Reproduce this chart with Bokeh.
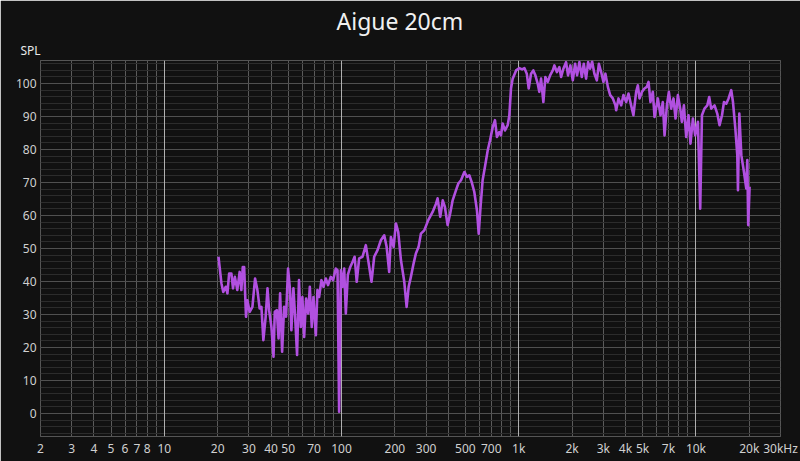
from bokeh.plotting import figure
from bokeh.models import FixedTicker, Grid, Title, ColumnDataSource
from bokeh.embed import file_html
from bokeh.resources import INLINE

# Frequency response (Hz, dB SPL)
freq_hz = [
    20.2, 21.0, 21.5, 22.2, 22.7, 23.2, 23.9, 24.4, 25.0, 25.8, 26.6, 27.2, 27.7, 28.2, 28.9,
    29.4, 30.3, 31.4, 32.5, 33.5, 34.5, 35.3, 36.2, 37.3, 38.2, 39.0, 40.2, 41.3, 42.0, 43.1,
    44.1, 45.0, 46.2, 47.4, 48.6, 49.9, 51.2, 52.1, 53.5, 54.7, 56.1, 57.5, 58.9, 60.1, 61.5,
    63.1, 64.8, 66.2, 67.9, 69.4, 71.6, 73.1, 74.7, 77.0, 79.1, 81.5, 83.9, 86.9, 89.6, 92.8,
    94.9, 96.9, 99.1, 101.7, 103.5, 105.7, 108.5, 112.0, 115.3, 118.5, 121.8, 125.7, 131.3,
    137.1, 141.3, 147.6, 152.8, 159.6, 166.7, 174.1, 179.6, 185.7, 189.8, 196.7, 202.7, 208.9,
    216.3, 225.9, 232.9, 239.2, 246.2, 255.1, 262.7, 272.1, 280.4, 292.9, 308.5, 326.6, 341.2,
    348.4, 360.6, 372.4, 383.0, 396.8, 410.2, 423.6, 442.6, 456.0, 472.0, 493.2, 510.5, 526.0,
    542.0, 561.0, 580.8, 594.3, 606.8, 625.2, 644.2, 668.3, 688.6, 712.9, 734.3, 753.4, 776.2,
    794, 811, 836, 866, 885, 904,
    924, 966, 1008, 1044, 1076, 1110, 1138, 1173, 1208, 1241, 1279, 1306, 1336, 1377, 1413,
    1458, 1503, 1556, 1589, 1641, 1695, 1734, 1786, 1849, 1897, 1956, 2018, 2080, 2134, 2199,
    2269, 2328, 2399, 2463, 2527, 2594, 2673, 2758, 2832, 2917, 3006, 3083, 3183, 3281, 3396,
    3513,
    3547, 3655, 3784, 3899, 4038, 4161, 4307, 4437, 4597, 4699,
    4802, 4955, 5121, 5280, 5400, 5538, 5710, 5838, 6095, 6310, 6500, 6650, 6855, 7033, 7246,
    7469, 7670, 7907, 8150, 8330, 8550, 8810, 9080, 9310, 9610, 9900, 10260, 10570, 10810,
    11170, 11590, 11880, 12190, 12730, 13190, 13590, 14030, 14390, 14830, 15280, 15820, 16180,
    16680, 17110, 17260, 17570, 18030, 18660, 19230, 19490, 19720, 20080,
]
spl_db = [
    47.5, 39.4, 36.8, 38.4, 36.4, 42.4, 42.4, 37.9, 41.4, 37.4, 42.9, 37.4, 44.4, 44.4, 29.3,
    34.3, 30.8, 32.3, 40.9, 37.4, 31.8, 32.3, 22.2, 29.3, 37.9, 31.3, 26.2, 17.2, 30.8, 31.3,
    22.7, 36.4, 18.7, 32.3, 29.3, 43.9, 37.4, 25.2, 37.9, 29.3, 17.7, 40.4, 26.2, 35.3, 23.2,
    34.8, 30.3, 38.4, 26.2, 35.3, 23.7, 37.4, 35.3, 40.4, 38.4, 40.9, 38.9, 41.4, 40.4, 43.9,
    43.4, 0.5, 43.4, 38.4, 43.9, 30.3, 42.0, 44.4, 45.9, 47.5, 39.9, 47.0, 47.5,
    51.0, 46.5, 39.9, 47.5, 49.5, 52.5, 54.0, 50.5, 42.9, 53.5, 50.5, 57.6, 55.0,
    46.5, 39.9, 32.3, 38.4, 41.4, 45.5, 48.5, 50.5, 54.5, 55.5, 58.6, 61.1, 63.6,
    65.2, 59.6, 64.6, 62.6, 57.1, 60.6, 64.6, 67.7, 69.7, 70.7, 73.2, 71.7, 72.2,
    70.2, 67.2, 61.6, 54.5, 61.6, 70.7, 74.7, 79.8, 82.8, 86.8, 88.9, 83.8, 85.3,
    84.3, 87.9, 85.8, 87.4, 90.4, 98.5,
    101.5, 104.0, 104.7, 104.3, 104.7, 103.0, 98.5, 103.0, 104.0, 102.5, 100.0, 97.5, 101.5, 94.4, 102.0,
    100.5, 102.5, 104.0, 105.5, 103.5, 105.0, 102.0, 104.5, 106.5, 102.5, 105.5, 101.0, 106.0, 102.5, 106.5,
    102.0, 106.0, 101.5, 106.5, 104.5, 106.7, 103.0, 101.0, 106.0, 103.5, 100.5, 103.0, 99.0, 96.5, 95.5,
    93.4,
    91.9, 95.5, 93.4, 96.5, 94.4, 97.0, 93.4, 90.4, 97.5, 99.5,
    95.5, 97.5, 98.5, 99.0, 100.5, 94.4, 97.5, 89.9, 95.5, 90.4, 94.4, 84.3, 93.4, 97.5, 92.4,
    95.5, 89.4, 96.5, 92.4, 88.4, 93.4, 83.8, 90.4, 81.8, 89.4, 84.3, 88.4, 62.1, 90.4,
    92.4, 93.4, 95.9, 92.4, 93.4, 90.9, 87.4, 90.4, 94.4, 93.9, 95.5, 98.0, 94.4,
    86.4, 78.3, 67.7, 90.9, 78.3, 73.2, 68.2, 76.8, 57.1, 68.7,
]

# Axis ticks and labels
x_grid_ticks = [2, 3, 4, 5, 6, 7, 8, 9,
                10, 20, 30, 40, 50, 60, 70, 80, 90,
                100, 200, 300, 400, 500, 600, 700, 800, 900,
                1000, 2000, 3000, 4000, 5000, 6000, 7000, 8000, 9000,
                10000, 20000, 30000]
x_tick_labels = {2: "2", 3: "3", 4: "4", 5: "5", 6: "6", 7: "7", 8: "8", 9: "",
                 10: "10", 20: "20", 30: "30", 40: "40", 50: "50", 60: "", 70: "70", 80: "", 90: "",
                 100: "100", 200: "200", 300: "300", 400: "", 500: "500", 600: "", 700: "700", 800: "", 900: "",
                 1000: "1k", 2000: "2k", 3000: "3k", 4000: "4k", 5000: "5k", 6000: "", 7000: "7k", 8000: "", 9000: "",
                 10000: "10k", 20000: "20k", 30000: "30kHz"}
decade_ticks = [10, 100, 1000, 10000]
y_ticks = list(range(0, 101, 10))
y_minor_ticks = list(range(-6, 107, 2))

BG = "#111111"
FONT = "Noto Sans"

p = figure(width=800, height=461, x_axis_type="log", x_range=(2, 30000), y_range=(-7, 107),
           output_backend="svg", toolbar_location=None,
           background_fill_color=BG, border_fill_color=BG,
           min_border_left=40, min_border_right=20, min_border_top=60, min_border_bottom=25)

p.outline_line_color = "#555555"

# Main title (outermost)
p.title.text = "Aigue 20cm"
p.title.align = "left"
p.title.offset = 296
p.title.text_font = FONT
p.title.text_font_size = "23px"
p.title.text_font_style = "normal"
p.title.text_color = "#f0f0f0"
p.title.standoff = 3

# SPL axis title, closest to the plot
spl_title = Title(text="SPL", align="left", offset=-20, text_font=FONT, text_font_size="12px",
                  text_font_style="normal", text_color="#e8e8e8", standoff=3)
p.add_layout(spl_title, "above")

# X axis
xa = p.xaxis[0]
xa.ticker = FixedTicker(ticks=x_grid_ticks, minor_ticks=[])
xa.major_label_overrides = x_tick_labels
xa.axis_line_color = None
xa.major_tick_line_color = None
xa.minor_tick_line_color = None
xa.major_tick_out = 0
xa.major_tick_in = 0
xa.minor_tick_out = 0
xa.major_label_standoff = 3
xa.major_label_text_font = FONT
xa.major_label_text_font_size = "12px"
xa.major_label_text_color = "#d0d0d0"

# Y axis
ya = p.yaxis[0]
ya.ticker = FixedTicker(ticks=y_ticks, minor_ticks=y_minor_ticks)
ya.axis_line_color = None
ya.major_tick_line_color = None
ya.minor_tick_line_color = None
ya.major_tick_out = 0
ya.major_tick_in = 0
ya.minor_tick_out = 0
ya.major_label_standoff = 4
ya.major_label_text_font = FONT
ya.major_label_text_font_size = "12px"
ya.major_label_text_color = "#d0d0d0"

# Grids
p.xgrid.grid_line_color = "#5a5a5a"
p.xgrid.grid_line_width = 1
p.ygrid.grid_line_color = "#505050"
p.ygrid.minor_grid_line_color = "#2c2c2c"

decade_grid = Grid(dimension=0, ticker=FixedTicker(ticks=decade_ticks, minor_ticks=[]),
                   grid_line_color="#b0b0b0", grid_line_width=1)
p.add_layout(decade_grid)

src = ColumnDataSource(dict(f=freq_hz, spl=spl_db))
p.line("f", "spl", source=src, line_color="#b150e0", line_width=2.6, line_join="round")

open("out.html", "w").write(file_html(p, INLINE))
